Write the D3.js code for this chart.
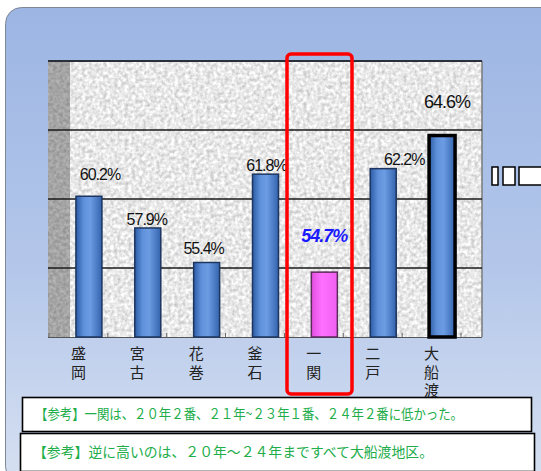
<!DOCTYPE html>
<html><head><meta charset="utf-8">
<script src="https://cdn.jsdelivr.net/npm/d3@7"></script>
<style>
html,body{margin:0;padding:0;background:#fff;}
svg{display:block;}
</style></head>
<body>
<script>
// ---- data ----
const categories = ["盛岡","宮古","花巻","釜石","一関","二戸","大船渡"];
const values = [60.2, 57.9, 55.4, 61.8, 54.7, 62.2, 64.6];
const valueLabels = ["60.2%","57.9%","55.4%","61.8%","54.7%","62.2%","64.6%"];
const yDomain = [50, 70];
const yTickValues = [50, 55, 60, 65, 70];
const highlight = "一関";
const maxCat = "大船渡";
const notes = [
  "【参考】一関は、２０年２番、２１年~２３年１番、２４年２番に低かった。",
  "【参考】逆に高いのは、２０年～２４年まですべて大船渡地区。"
];

// ---- layout ----
const W = 541, H = 471;
const plot = {left: 48, wall: 22, right: 482, top: 61, bottom: 337};
const depth = 10.5; // 3D offset of bars relative to floor categories
// manual label nudges (dx, dy from bar top) as in the original
const labelNudge = {
  "盛岡":[11,-16], "宮古":[-1,-3], "花巻":[-3,-8], "釜石":[1,-3],
  "一関":[0,-30], "二戸":[21,-4], "大船渡":[5,-28]
};

const svg = d3.select("body").append("svg").attr("width", W).attr("height", H);
const defs = svg.append("defs");

// panel gradient
const pg = defs.append("linearGradient").attr("id","panel").attr("x1",0).attr("y1",0).attr("x2",0).attr("y2",1);
pg.append("stop").attr("offset","0%").attr("stop-color","#9cb5e3");
pg.append("stop").attr("offset","55%").attr("stop-color","#b4c7ea");
pg.append("stop").attr("offset","100%").attr("stop-color","#d6e0f1");

// textures
const f1 = defs.append("filter").attr("id","marble").attr("x",0).attr("y",0).attr("width",1).attr("height",1)
  .attr("color-interpolation-filters","sRGB");
f1.append("feTurbulence").attr("type","fractalNoise").attr("baseFrequency","0.28").attr("numOctaves",2).attr("seed",4);
f1.append("feColorMatrix").attr("type","matrix")
  .attr("values","0.4 0 0 0 0.71  0.4 0 0 0 0.71  0.4 0 0 0 0.71  0 0 0 0 1");
const f2 = defs.append("filter").attr("id","wallTex").attr("x",0).attr("y",0).attr("width",1).attr("height",1)
  .attr("color-interpolation-filters","sRGB");
f2.append("feTurbulence").attr("type","fractalNoise").attr("baseFrequency","0.3").attr("numOctaves",2).attr("seed",7);
f2.append("feColorMatrix").attr("type","matrix")
  .attr("values","0.25 0 0 0 0.52  0.25 0 0 0 0.52  0.25 0 0 0 0.52  0 0 0 0 1");

// bar gradients
function hgrad(id, stops){
  const g = defs.append("linearGradient").attr("id",id).attr("x1",0).attr("y1",0).attr("x2",1).attr("y2",0);
  stops.forEach(([o,c])=>g.append("stop").attr("offset",o).attr("stop-color",c));
}
hgrad("blueBar",[["0%","#2d5ca6"],["30%","#5f90da"],["55%","#6c9de3"],["100%","#3463ad"]]);
hgrad("pinkBar",[["0%","#e04ee0"],["40%","#ff70ff"],["100%","#f060f0"]]);

// panel
svg.append("rect").attr("x",5.5).attr("y",7.5).attr("width",W+20).attr("height",H+4)
  .attr("rx",16).attr("fill","url(#panel)").attr("stroke","#7d8796").attr("stroke-width",1);

// scales
const y = d3.scaleLinear().domain(yDomain).range([plot.bottom, plot.top]);
const xFloor = d3.scaleBand().domain(categories).range([49, 461]).paddingInner(0).paddingOuter(0);
const barW = 26;

// plot background
svg.append("rect").attr("x",plot.left+plot.wall).attr("y",plot.top)
  .attr("width",plot.right-plot.left-plot.wall).attr("height",plot.bottom-plot.top)
  .attr("filter","url(#marble)");
svg.append("rect").attr("x",plot.left).attr("y",plot.top)
  .attr("width",plot.wall).attr("height",plot.bottom-plot.top)
  .attr("filter","url(#wallTex)");
// right edge
svg.append("line").attr("x1",plot.right).attr("x2",plot.right).attr("y1",plot.top).attr("y2",plot.bottom)
  .attr("stroke","#7a7a7a").attr("stroke-width",1.5);

// gridlines
svg.append("g").selectAll("line").data(yTickValues.filter(v=>v>yDomain[0])).join("line")
  .attr("x1",plot.left).attr("x2",plot.right)
  .attr("y1",d=>y(d)).attr("y2",d=>y(d))
  .attr("stroke",d=>d===yDomain[1]?"#2a2f38":"#1a1a1a")
  .attr("stroke-width",d=>d===yDomain[1]?2:1.6);

// floor axis
const axis = d3.axisBottom(xFloor).tickSize(0).tickFormat("");
svg.append("g").attr("transform",`translate(0,${plot.bottom})`).call(axis)
  .call(g=>g.select(".domain").attr("stroke","#555").attr("stroke-width",1.2).attr("d",`M${plot.left},0.5H${plot.right}`));
const bounds = categories.map(c=>xFloor(c)).concat([xFloor.range()[1]]);
svg.append("g").selectAll("line").data(bounds).join("line")
  .attr("x1",d=>d).attr("x2",d=>d).attr("y1",plot.bottom).attr("y2",plot.bottom-4)
  .attr("stroke","#666").attr("stroke-width",1);

// bars
const cx = c => xFloor(c) + xFloor.bandwidth()/2 + depth;
svg.append("g").selectAll("rect").data(categories).join("rect")
  .attr("x",c=>cx(c)-barW/2)
  .attr("y",(c,i)=>y(values[i]))
  .attr("width",barW)
  .attr("height",(c,i)=>y(yDomain[0])-y(values[i]))
  .attr("fill",c=>c===highlight?"url(#pinkBar)":"url(#blueBar)")
  .attr("stroke",c=>c===highlight?"#5b2a5b":(c===maxCat?"#000":"#1d355f"))
  .attr("stroke-width",c=>c===maxCat?3.5:1.5);

// value labels
svg.append("g").selectAll("text").data(categories).join("text")
  .attr("x",c=>cx(c)+labelNudge[c][0])
  .attr("y",(c,i)=>y(values[i])+labelNudge[c][1])
  .attr("text-anchor","middle")
  .attr("font-family","'Liberation Sans', Arial, sans-serif")
  .attr("font-size",c=>(c===highlight||c===maxCat)?18:16)
  .attr("letter-spacing",-1)
  .attr("font-weight",c=>c===highlight?"bold":"normal")
  .attr("font-style",c=>c===highlight?"italic":"normal")
  .attr("fill",c=>c===highlight?"#1a1aff":"#111")
  .text((c,i)=>valueLabels[i]);

// category labels (vertical writing)
svg.append("g").selectAll("text").data(categories).join("text")
  .attr("x",c=>xFloor(c)+xFloor.bandwidth()/2)
  .attr("y",346)
  .attr("writing-mode","vertical-rl")
  .style("writing-mode","vertical-rl")
  .attr("text-anchor","start")
  .attr("letter-spacing",3.5)
  .attr("font-family","'Noto Sans CJK JP', sans-serif")
  .attr("font-size",15)
  .attr("fill","#222")
  .text(c=>c);

// red highlight frame
svg.append("rect").attr("x",287).attr("y",54).attr("width",65).attr("height",340)
  .attr("rx",4).attr("fill","none").attr("stroke","#ff0000").attr("stroke-width",3.5);

// stray boxes on right (legend remnants)
[[492,6],[503,12],[519,26]].forEach(([x0,w])=>{
  svg.append("rect").attr("x",x0).attr("y",167).attr("width",w).attr("height",18)
    .attr("fill","#fff").attr("stroke","#000").attr("stroke-width",1.5);
});

// note boxes
const boxes = [
  {x:22.5,y:397.5,w:509,h:34,tx:35,tl:428,ty:419},
  {x:20.5,y:433.5,w:514,h:38,tx:33,tl:400,ty:457}
];
boxes.forEach((b,i)=>{
  svg.append("rect").attr("x",b.x).attr("y",b.y).attr("width",b.w).attr("height",b.h)
    .attr("fill","#fff").attr("stroke","#000").attr("stroke-width",1.6);
  svg.append("text").attr("x",b.tx).attr("y",b.ty)
    .attr("font-family","'Noto Sans CJK JP', sans-serif").attr("font-size",14)
    .attr("fill","#21ad4a")
    .attr("textLength",b.tl).attr("lengthAdjust","spacingAndGlyphs")
    .text(notes[i]);
});
</script>
</body></html>
